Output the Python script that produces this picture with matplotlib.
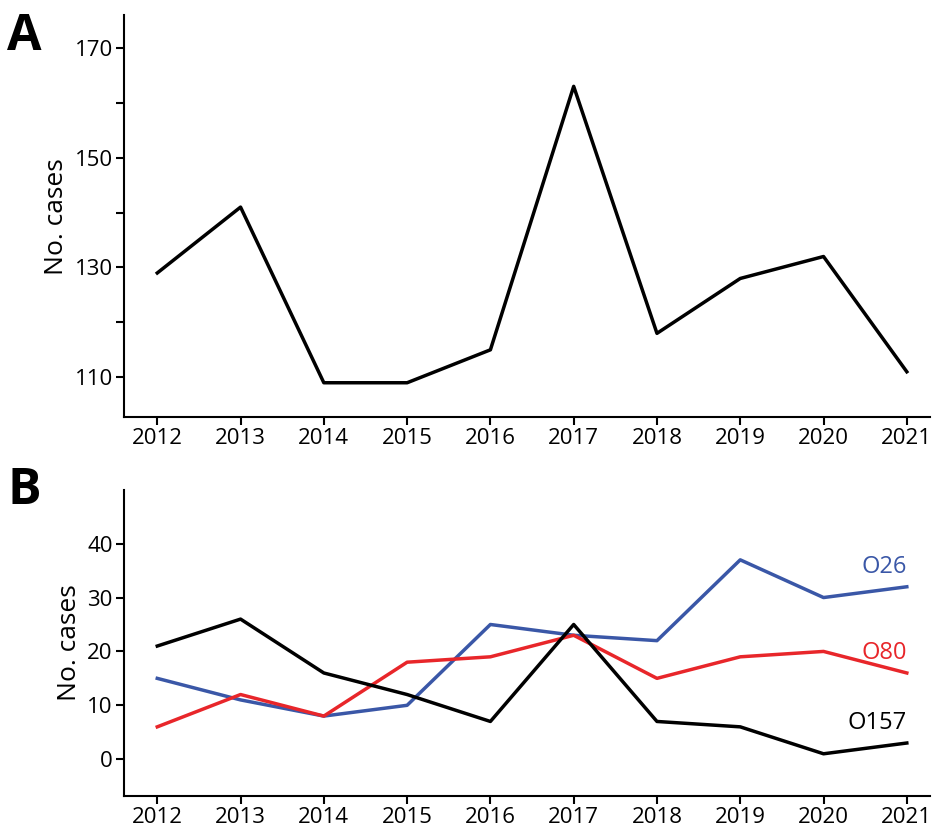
import numpy as np
import matplotlib.pyplot as plt

plt.rcParams['font.family'] = ['Open Sans', 'DejaVu Sans']

years = [2012, 2013, 2014, 2015, 2016, 2017, 2018, 2019, 2020, 2021]
total = [129, 141, 109, 109, 115, 163, 118, 128, 132, 111]
o26 = [15, 11, 8, 10, 25, 23, 22, 37, 30, 32]
o80 = [6, 12, 8, 18, 19, 23, 15, 19, 20, 16]
o157 = [21, 26, 16, 12, 7, 25, 7, 6, 1, 3]

fig = plt.figure(figsize=(9.32, 8.33), dpi=100)
axA = fig.add_axes([0.133, 0.499, 0.865, 0.483])
axB = fig.add_axes([0.133, 0.044, 0.865, 0.368])

def style(ax):
    for s in ['top', 'right']:
        ax.spines[s].set_visible(False)
    for s in ['left', 'bottom']:
        ax.spines[s].set_linewidth(1.5)
    ax.tick_params(labelsize=16, width=1.5, length=6, pad=2)
    ax.set_xticks(years)
    ax.set_xlim(2011.6, 2021.28)
    ax.set_ylabel("No. cases", fontsize=19, labelpad=4)

axA.plot(years, total, color='black', lw=2.5)
style(axA)
axA.set_ylim(102.7, 176)
axA.set_yticks([110, 120, 130, 140, 150, 160, 170])
axA.set_yticklabels(['110', '', '130', '', '150', '', '170'])

axB.plot(years, o26, color='#3a57a7', lw=2.5)
axB.plot(years, o80, color='#e8262a', lw=2.5)
axB.plot(years, o157, color='black', lw=2.5)
style(axB)
axB.set_ylim(-6.9, 50)
axB.set_yticks([0, 10, 20, 30, 40])
axB.text(2021, o26[-1] + 1.5, "O26", color='#3a57a7', fontsize=17, ha='right', va='bottom')
axB.text(2021, o80[-1] + 1.5, "O80", color='#e8262a', fontsize=17, ha='right', va='bottom')
axB.text(2021, o157[-1] + 1.5, "O157", color='black', fontsize=17, ha='right', va='bottom')

fig.text(0.008, 0.985, "A", fontsize=36, fontweight='bold', va='top')
fig.text(0.008, 0.44, "B", fontsize=36, fontweight='bold', va='top')

fig.savefig("out.png", dpi=100)
